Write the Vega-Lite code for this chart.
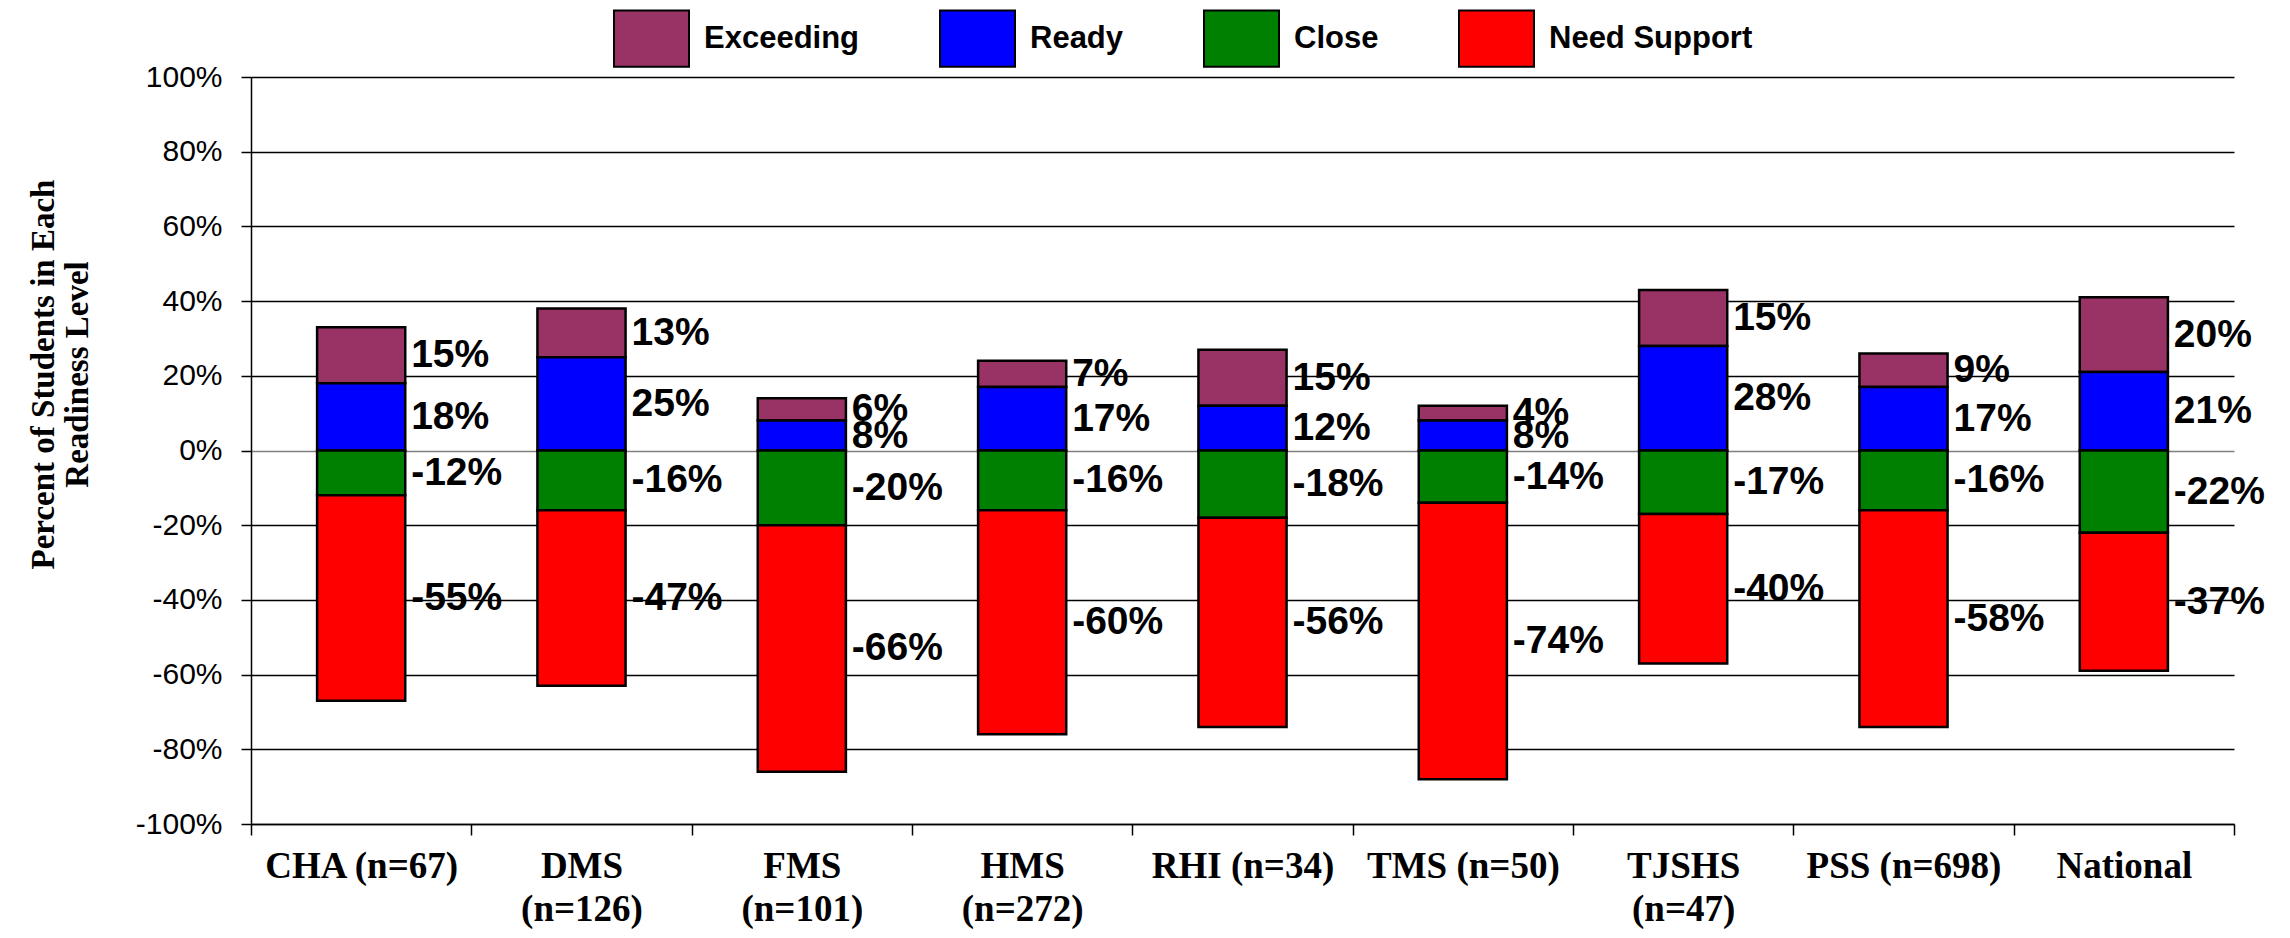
{
  "$schema": "https://vega.github.io/schema/vega-lite/v6.json",
  "width": 1983,
  "height": 747,
  "autosize": {"type": "none"},
  "padding": {"left": 251, "top": 77, "right": 56, "bottom": 114},
  "background": "white",
  "config": {
    "locale": {"number": {"decimal": ".", "thousands": ",", "grouping": [3], "currency": ["$", ""], "minus": "-"}},
    "view": {"stroke": null}
  },
  "data": {
    "values": [
      {"school": "CHA (n=67)", "level": "Exceeding", "value": 0.15, "rank": 2},
      {"school": "CHA (n=67)", "level": "Ready", "value": 0.18, "rank": 1},
      {"school": "CHA (n=67)", "level": "Close", "value": -0.12, "rank": 3},
      {"school": "CHA (n=67)", "level": "Need Support", "value": -0.55, "rank": 4},
      {"school": "DMS (n=126)", "level": "Exceeding", "value": 0.13, "rank": 2},
      {"school": "DMS (n=126)", "level": "Ready", "value": 0.25, "rank": 1},
      {"school": "DMS (n=126)", "level": "Close", "value": -0.16, "rank": 3},
      {"school": "DMS (n=126)", "level": "Need Support", "value": -0.47, "rank": 4},
      {"school": "FMS (n=101)", "level": "Exceeding", "value": 0.06, "rank": 2},
      {"school": "FMS (n=101)", "level": "Ready", "value": 0.08, "rank": 1},
      {"school": "FMS (n=101)", "level": "Close", "value": -0.20, "rank": 3},
      {"school": "FMS (n=101)", "level": "Need Support", "value": -0.66, "rank": 4},
      {"school": "HMS (n=272)", "level": "Exceeding", "value": 0.07, "rank": 2},
      {"school": "HMS (n=272)", "level": "Ready", "value": 0.17, "rank": 1},
      {"school": "HMS (n=272)", "level": "Close", "value": -0.16, "rank": 3},
      {"school": "HMS (n=272)", "level": "Need Support", "value": -0.60, "rank": 4},
      {"school": "RHI (n=34)", "level": "Exceeding", "value": 0.15, "rank": 2},
      {"school": "RHI (n=34)", "level": "Ready", "value": 0.12, "rank": 1},
      {"school": "RHI (n=34)", "level": "Close", "value": -0.18, "rank": 3},
      {"school": "RHI (n=34)", "level": "Need Support", "value": -0.56, "rank": 4},
      {"school": "TMS (n=50)", "level": "Exceeding", "value": 0.04, "rank": 2},
      {"school": "TMS (n=50)", "level": "Ready", "value": 0.08, "rank": 1},
      {"school": "TMS (n=50)", "level": "Close", "value": -0.14, "rank": 3},
      {"school": "TMS (n=50)", "level": "Need Support", "value": -0.74, "rank": 4},
      {"school": "TJSHS (n=47)", "level": "Exceeding", "value": 0.15, "rank": 2},
      {"school": "TJSHS (n=47)", "level": "Ready", "value": 0.28, "rank": 1},
      {"school": "TJSHS (n=47)", "level": "Close", "value": -0.17, "rank": 3},
      {"school": "TJSHS (n=47)", "level": "Need Support", "value": -0.40, "rank": 4},
      {"school": "PSS (n=698)", "level": "Exceeding", "value": 0.09, "rank": 2},
      {"school": "PSS (n=698)", "level": "Ready", "value": 0.17, "rank": 1},
      {"school": "PSS (n=698)", "level": "Close", "value": -0.16, "rank": 3},
      {"school": "PSS (n=698)", "level": "Need Support", "value": -0.58, "rank": 4},
      {"school": "National", "level": "Exceeding", "value": 0.20, "rank": 2},
      {"school": "National", "level": "Ready", "value": 0.21, "rank": 1},
      {"school": "National", "level": "Close", "value": -0.22, "rank": 3},
      {"school": "National", "level": "Need Support", "value": -0.37, "rank": 4}
    ]
  },
  "encoding": {
    "x": {
      "field": "school",
      "type": "nominal",
      "sort": ["CHA (n=67)", "DMS (n=126)", "FMS (n=101)", "HMS (n=272)", "RHI (n=34)", "TMS (n=50)", "TJSHS (n=47)", "PSS (n=698)", "National"],
      "scale": {"paddingInner": 0, "paddingOuter": 0},
      "axis": {
        "title": null,
        "labelAngle": 0,
        "tickBand": "extent",
        "ticks": true,
        "tickSize": 11,
        "tickColor": "#000000",
        "tickWidth": 1.5,
        "domainColor": "#000000",
        "domainWidth": 1.5,
        "grid": false,
        "labelFont": "Liberation Serif",
        "labelFontWeight": "bold",
        "labelFontSize": 37,
        "labelColor": "#000000",
        "labelPadding": 13,
        "labelBaseline": "top",
        "labelLineHeight": 43,
        "labelLimit": 400,
        "labelExpr": "indexof(['DMS (n=126)','FMS (n=101)','HMS (n=272)','TJSHS (n=47)'], datum.value) >= 0 ? split(datum.value, ' ') : datum.value"
      }
    }
  },
  "layer": [
    {
      "mark": {"type": "bar", "stroke": "#000000", "strokeWidth": 2.5, "width": {"band": 0.4}},
      "encoding": {
        "y": {
          "field": "value",
          "type": "quantitative",
          "stack": "zero",
          "scale": {"domain": [-1, 1], "nice": false},
          "axis": {
            "values": [-1, -0.8, -0.6, -0.4, -0.2, 0, 0.2, 0.4, 0.6, 0.8, 1],
            "format": ".0%",
            "title": ["Percent of Students in Each", "Readiness Level"],
            "titleFont": "Liberation Serif",
            "titleFontWeight": "bold",
            "titleFontSize": 33,
            "titleColor": "#000000",
            "titleLineHeight": 34,
            "titleAngle": -90,
            "titleAlign": "center",
            "titleBaseline": "middle",
            "titleX": -208,
            "titleY": 297,
            "labelFont": "Liberation Sans",
            "labelFontSize": 30,
            "labelColor": "#000000",
            "labelPadding": 19,
            "tickSize": 10,
            "tickColor": "#000000",
            "tickWidth": 1.5,
            "domainColor": "#000000",
            "domainWidth": 1.5,
            "grid": true,
            "gridColor": {"condition": {"test": "datum.value === 0", "value": "#808080"}, "value": "#000000"},
            "gridWidth": 1.5
          }
        },
        "color": {
          "field": "level",
          "type": "nominal",
          "scale": {
            "domain": ["Exceeding", "Ready", "Close", "Need Support"],
            "range": ["#993366", "#0000FF", "#008000", "#FF0000"]
          },
          "legend": {
            "title": null,
            "orient": "none",
            "direction": "horizontal",
            "legendX": 362,
            "legendY": -77,
            "padding": 0,
            "symbolType": "M-1,-0.75H1V0.75H-1Z",
            "symbolSize": 5625,
            "symbolStrokeColor": "#000000",
            "symbolStrokeWidth": 2,
            "symbolOpacity": 1,
            "labelFont": "Liberation Sans",
            "labelFontWeight": "bold",
            "labelFontSize": 31,
            "labelColor": "#000000",
            "labelOffset": 14,
            "labelLimit": 400,
            "columnPadding": 76
          }
        },
        "order": {"field": "rank", "type": "quantitative"}
      }
    },
    {
      "transform": [
        {"stack": "value", "groupby": ["school"], "sort": [{"field": "rank", "order": "ascending"}], "as": ["v0", "v1"]},
        {"calculate": "(datum.v0 + datum.v1) / 2", "as": "mid"}
      ],
      "mark": {
        "type": "text",
        "align": "left",
        "baseline": "middle",
        "dx": 50,
        "font": "Liberation Sans",
        "fontWeight": "bold",
        "fontSize": 39,
        "color": "#000000"
      },
      "encoding": {
        "y": {"field": "mid", "type": "quantitative"},
        "text": {"field": "value", "type": "quantitative", "format": ".0%"}
      }
    }
  ]
}
